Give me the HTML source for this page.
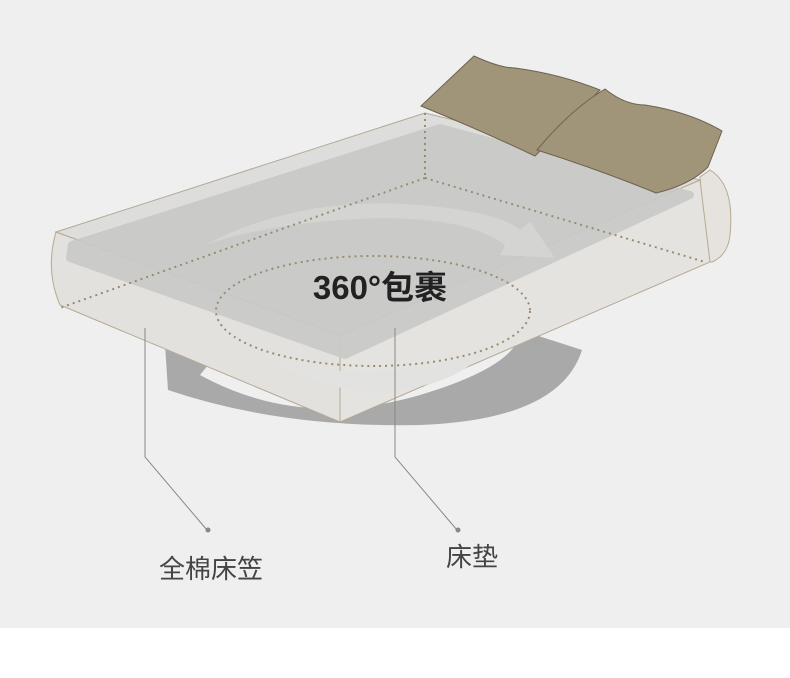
<!DOCTYPE html>
<html><head><meta charset="utf-8"><style>
body{margin:0;width:790px;height:678px;background:#fff;overflow:hidden}
.bg{position:absolute;left:0;top:0;width:790px;height:628px;background:#efefef}
svg{position:absolute;left:0;top:0}
</style></head><body><div class="bg"></div>
<svg width="790" height="678" viewBox="0 0 790 678">
<path d="M168,390 L165,345 L235,332 L200,375 Q300,430 420,395 Q520,365 520,330 L582,350 Q560,420 420,425 Q280,428 168,390Z" fill="#a9a9a9"/>
<path d="M700,177 L710,170 Q735,185 730,235 Q728,255 712,262 L705,262 Z" fill="#e6e3df" stroke="#b5a993" stroke-width="1"/>
<path d="M56,232 L340,335 L340,422 L60,305 Q45,270 56,232Z" fill="#e3e1dd" stroke="#b5a993" stroke-width="1"/>
<path d="M340,335 L700,180 L710,262 L340,422Z" fill="#e5e3df" stroke="#b5a993" stroke-width="1"/>
<path d="M56,232 L425,113 L700,180 L340,335Z" fill="#dddddb" stroke="#b5a993" stroke-width="1"/>
<path d="M72,245 L440,128 L690,195 L345,355 L70,258Z" fill="#c9cac8" stroke="#c9cac8" stroke-width="8" stroke-linejoin="round" opacity="0.9"/>
<path d="M205,245 Q300,195 420,205 Q500,212 520,230 L530,222 L555,258 L500,255 L505,245 Q470,218 380,218 Q270,222 205,245Z" fill="#d4d4d2"/>
<path d="M250,340 Q300,375 380,372 Q460,370 490,340 Q470,385 380,392 Q300,390 250,340Z" fill="#e2e2e0"/>
<!-- pillows on top -->
<path d="M421,106 L474,56 Q500,68 515,68 Q560,74 600,90 L535,156 Q480,130 421,106Z" fill="#a09479" stroke="#6d6250" stroke-width="1"/>
<path d="M605,89 Q625,105 645,105 Q690,112 722,131 L708,167 Q690,185 656,193 Q600,170 537,150 Q570,110 605,89Z" fill="#a09479" stroke="#6d6250" stroke-width="1"/>
<g stroke="#9a8b70" stroke-width="2" stroke-dasharray="2,4" fill="none">
<line x1="425" y1="113" x2="425" y2="178"/>
<line x1="425" y1="178" x2="60" y2="308"/>
<line x1="425" y1="178" x2="705" y2="262"/>
<ellipse cx="373" cy="311" rx="157" ry="55"/>
</g>
<g stroke="#888" stroke-width="1" fill="none">
<polyline points="145,328 145,457 207,530"/>
<polyline points="395,328 395,457 457,530"/>
</g>
<circle cx="208" cy="530" r="2.5" fill="#888"/>
<circle cx="458" cy="530" r="2.5" fill="#888"/>
<text x="380" y="299" text-anchor="middle" font-family="Liberation Sans,Noto Sans CJK SC,sans-serif" font-weight="bold" font-size="33" fill="#222">360°包裹</text>
<text x="211" y="578" text-anchor="middle" font-family="Liberation Sans,Noto Sans CJK SC,sans-serif" font-size="26" fill="#444">全棉床笠</text>
<text x="472" y="566" text-anchor="middle" font-family="Liberation Sans,Noto Sans CJK SC,sans-serif" font-size="26" fill="#444">床垫</text>
</svg></body></html>
